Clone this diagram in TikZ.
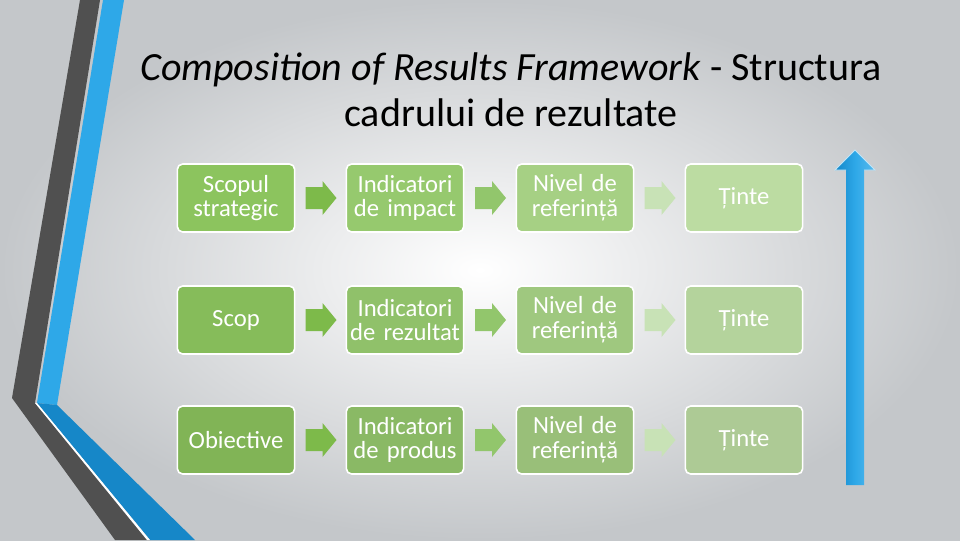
\documentclass[tikz,border=0pt]{standalone}
\usepackage{fontspec}
\setmainfont{Carlito}
\definecolor{bgout}{HTML}{C4C7CA}
\definecolor{dk}{HTML}{505050}
\definecolor{bl}{HTML}{2EA8E8}
\definecolor{bldk}{HTML}{1687C8}
\definecolor{cA}{HTML}{8CC45E}
\definecolor{cB}{HTML}{96C96E}
\definecolor{cC}{HTML}{A6D084}
\definecolor{cD}{HTML}{BCDCA2}
\definecolor{aA}{HTML}{7DBA4A}
\definecolor{aB}{HTML}{92C66C}
\definecolor{aC}{HTML}{C8E2B6}
\tikzset{
  box/.style={draw=white,line width=1.2pt,rounded corners=4pt,minimum width=88pt,minimum height=51pt,text width=86pt,align=center,text=white,font=\fontsize{18.5}{18.5}\selectfont,inner sep=0pt}
}
\newcommand{\blockarrow}[2]{\fill[#1,shift={(#2)}] (-15,-11)--(2,-11)--(2,-17)--(16,0)--(2,17)--(2,11)--(-15,11)--cycle;}
\begin{document}
\begin{tikzpicture}[x=0.75pt,y=-0.75pt]
\useasboundingbox (0,0) rectangle (960,540);
\shade[inner color=white,outer color=bgout] (0,0) rectangle (960,540);
% left decoration
\fill[dk] (80,0)--(100,0)--(35,403)--(150,540)--(115,540)--(12,398)--cycle;
\fill[bl] (103,0)--(124,0)--(57,405)--(37,403)--cycle;
\fill[bldk] (37,403)--(57,405)--(195,540)--(150,540)--cycle;
\fill[white] (35,403)--(37,403)--(150,540)--(147,540)--cycle;
% title
\node (title) at (511,94) {\fontsize{30}{35}\selectfont\begin{tabular}{c}\textit{Composition of Results Framework} - Structura\\ cadrului de rezultate\end{tabular}};
% boxes
\node[box,fill=cA] (a1) at (236,198) {Scopul\\strategic};
\node[box,fill=cB] (b1) at (405,198) {Indicatori\\de impact};
\node[box,fill=cC] (c1) at (575,198) {Nivel de\\referință};
\node[box,fill=cD] (d1) at (744,198) {Ținte};
\node[box,fill=cA!96!black] (a2) at (236,320) {Scop};
\node[box,fill=cB!96!black] (b2) at (405,320) {Indicatori\\de rezultat};
\node[box,fill=cC!96!black] (c2) at (575,320) {Nivel de\\referință};
\node[box,fill=cD!96!black] (d2) at (744,320) {Ținte};
\node[box,fill=cA!92!black] (a3) at (236,440) {Obiective};
\node[box,fill=cB!92!black] (b3) at (405,440) {Indicatori\\de produs};
\node[box,fill=cC!92!black] (c3) at (575,440) {Nivel de\\referință};
\node[box,fill=cD!92!black] (d3) at (744,440) {Ținte};
\foreach \r in {1,2,3}{
  \path (a\r.east) -- (b\r.west) coordinate[midway] (p\r);
  \path (b\r.east) -- (c\r.west) coordinate[midway] (q\r);
  \path (c\r.east) -- (d\r.west) coordinate[midway] (s\r);
  \blockarrow{aA}{p\r}
  \blockarrow{aB}{q\r}
  \blockarrow{aC}{s\r}
}
% big blue arrow
\coordinate (bt) at (855,150);
\coordinate (bb) at (855,485);
\shade[left color=bldk,right color=bl!80!white,middle color=bl] (846,485)--(846,170)--(835,170)--(bt)--(875,170)--(864,170)--(864,485)--cycle;
\draw[white!70!bl,line width=0.6pt] (846,170)--(835,170)--(bt)--(875,170)--(864,170);
\end{tikzpicture}
\end{document}
